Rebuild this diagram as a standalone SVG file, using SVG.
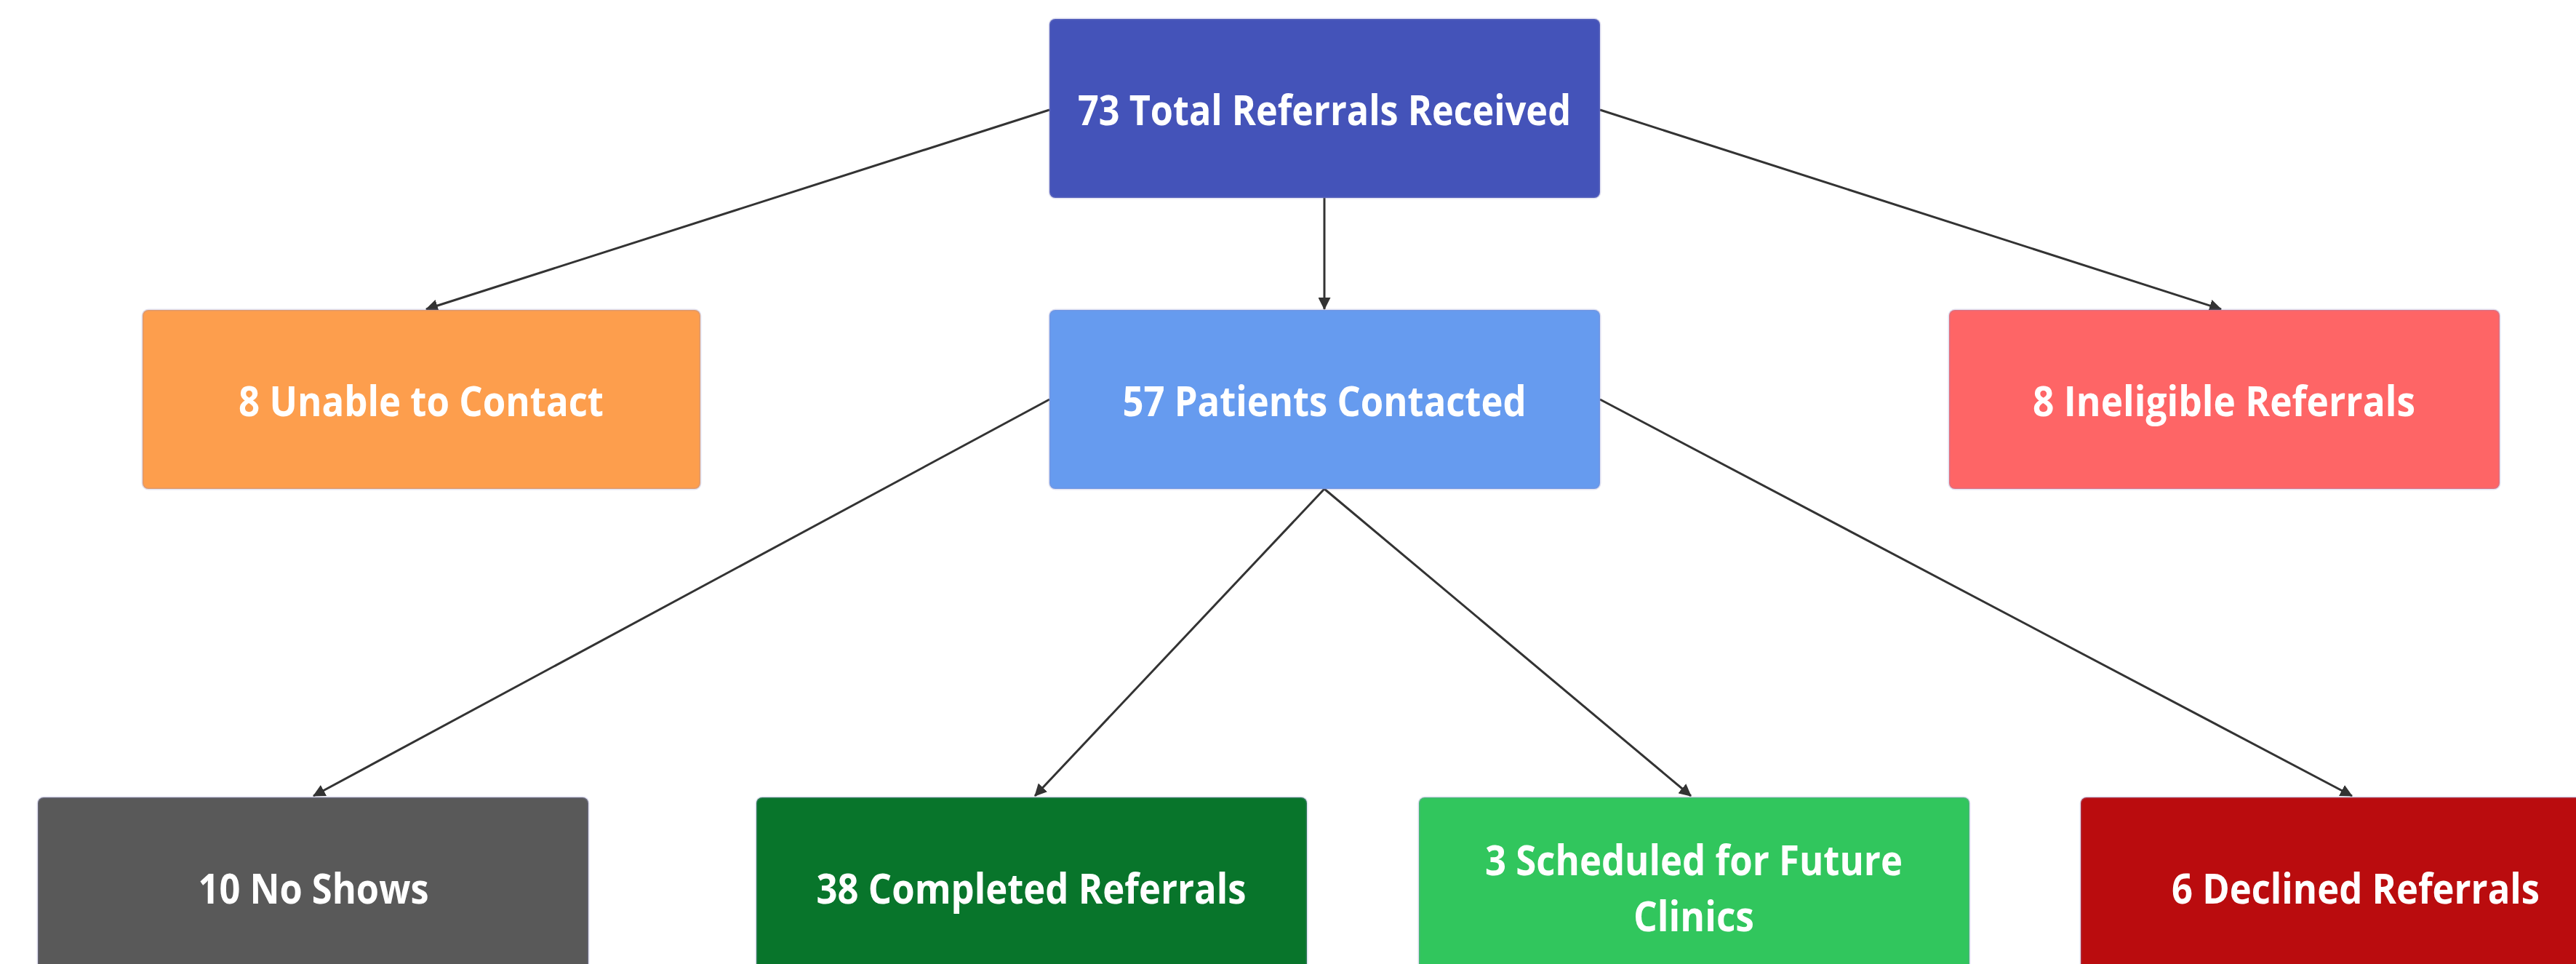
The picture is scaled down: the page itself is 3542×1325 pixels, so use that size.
<svg xmlns="http://www.w3.org/2000/svg" width="3542" height="1325" viewBox="0 0 3542 1325">
<style>
.box{stroke:rgba(140,140,200,0.25);stroke-width:3}
.lbl{font-family:"Open Sans","Noto Sans","Liberation Sans",sans-serif;font-weight:700;font-size:58px;fill:#ffffff;text-anchor:middle}
.edge{stroke:#333333;stroke-width:3;fill:none}
</style>
<defs>
<marker id="arr" markerUnits="userSpaceOnUse" markerWidth="17" markerHeight="17" viewBox="0 0 16 16" refX="15" refY="8" orient="auto">
<path d="M0,0 L16,8 L0,16 z" fill="#333333"/>
</marker>
</defs>
<rect width="3542" height="1325" fill="#ffffff"/>
<g id="connectors">
<line class="edge" x1="1443" y1="151" x2="586" y2="425" marker-end="url(#arr)"/>
<line class="edge" x1="1821" y1="272" x2="1821" y2="425" marker-end="url(#arr)"/>
<line class="edge" x1="2200" y1="151" x2="3054" y2="425" marker-end="url(#arr)"/>
<line class="edge" x1="1443" y1="549" x2="431" y2="1094" marker-end="url(#arr)"/>
<line class="edge" x1="1821" y1="672" x2="1423" y2="1094" marker-end="url(#arr)"/>
<line class="edge" x1="1821" y1="672" x2="2325" y2="1094" marker-end="url(#arr)"/>
<line class="edge" x1="2200" y1="549" x2="3234" y2="1094" marker-end="url(#arr)"/>
</g>
<g id="n-total">
<rect class="box" x="1443" y="26" width="757" height="246" rx="8" fill="#4453b9"/>
<text class="lbl" x="1821" y="172" textLength="678" lengthAdjust="spacingAndGlyphs">73 Total Referrals Received</text>
</g>
<g id="n-unable">
<rect class="box" x="196" y="426" width="767" height="246" rx="8" fill="#fd9e4d"/>
<text class="lbl" x="579" y="572" textLength="502" lengthAdjust="spacingAndGlyphs">8 Unable to Contact</text>
</g>
<g id="n-contacted">
<rect class="box" x="1443" y="426" width="757" height="246" rx="8" fill="#669bef"/>
<text class="lbl" x="1821" y="572" textLength="555" lengthAdjust="spacingAndGlyphs">57 Patients Contacted</text>
</g>
<g id="n-ineligible">
<rect class="box" x="2680" y="426" width="757" height="246" rx="8" fill="#fe6566"/>
<text class="lbl" x="3058" y="572" textLength="526" lengthAdjust="spacingAndGlyphs">8 Ineligible Referrals</text>
</g>
<g id="n-noshows">
<rect class="box" x="52" y="1096" width="757" height="246" rx="8" fill="#595959"/>
<text class="lbl" x="431" y="1242" textLength="317" lengthAdjust="spacingAndGlyphs">10 No Shows</text>
</g>
<g id="n-completed">
<rect class="box" x="1040" y="1096" width="757" height="246" rx="8" fill="#08752b"/>
<text class="lbl" x="1418" y="1242" textLength="591" lengthAdjust="spacingAndGlyphs">38 Completed Referrals</text>
</g>
<g id="n-scheduled">
<rect class="box" x="1951" y="1096" width="757" height="246" rx="8" fill="#31c65d"/>
<text class="lbl" x="2329" y="1203" textLength="574" lengthAdjust="spacingAndGlyphs">3 Scheduled for Future</text>
<text class="lbl" x="2329" y="1280" textLength="166" lengthAdjust="spacingAndGlyphs">Clinics</text>
</g>
<g id="n-declined">
<rect class="box" x="2861" y="1096" width="757" height="246" rx="8" fill="#ba0c0e"/>
<text class="lbl" x="3239" y="1242" textLength="506" lengthAdjust="spacingAndGlyphs">6 Declined Referrals</text>
</g>
</svg>
